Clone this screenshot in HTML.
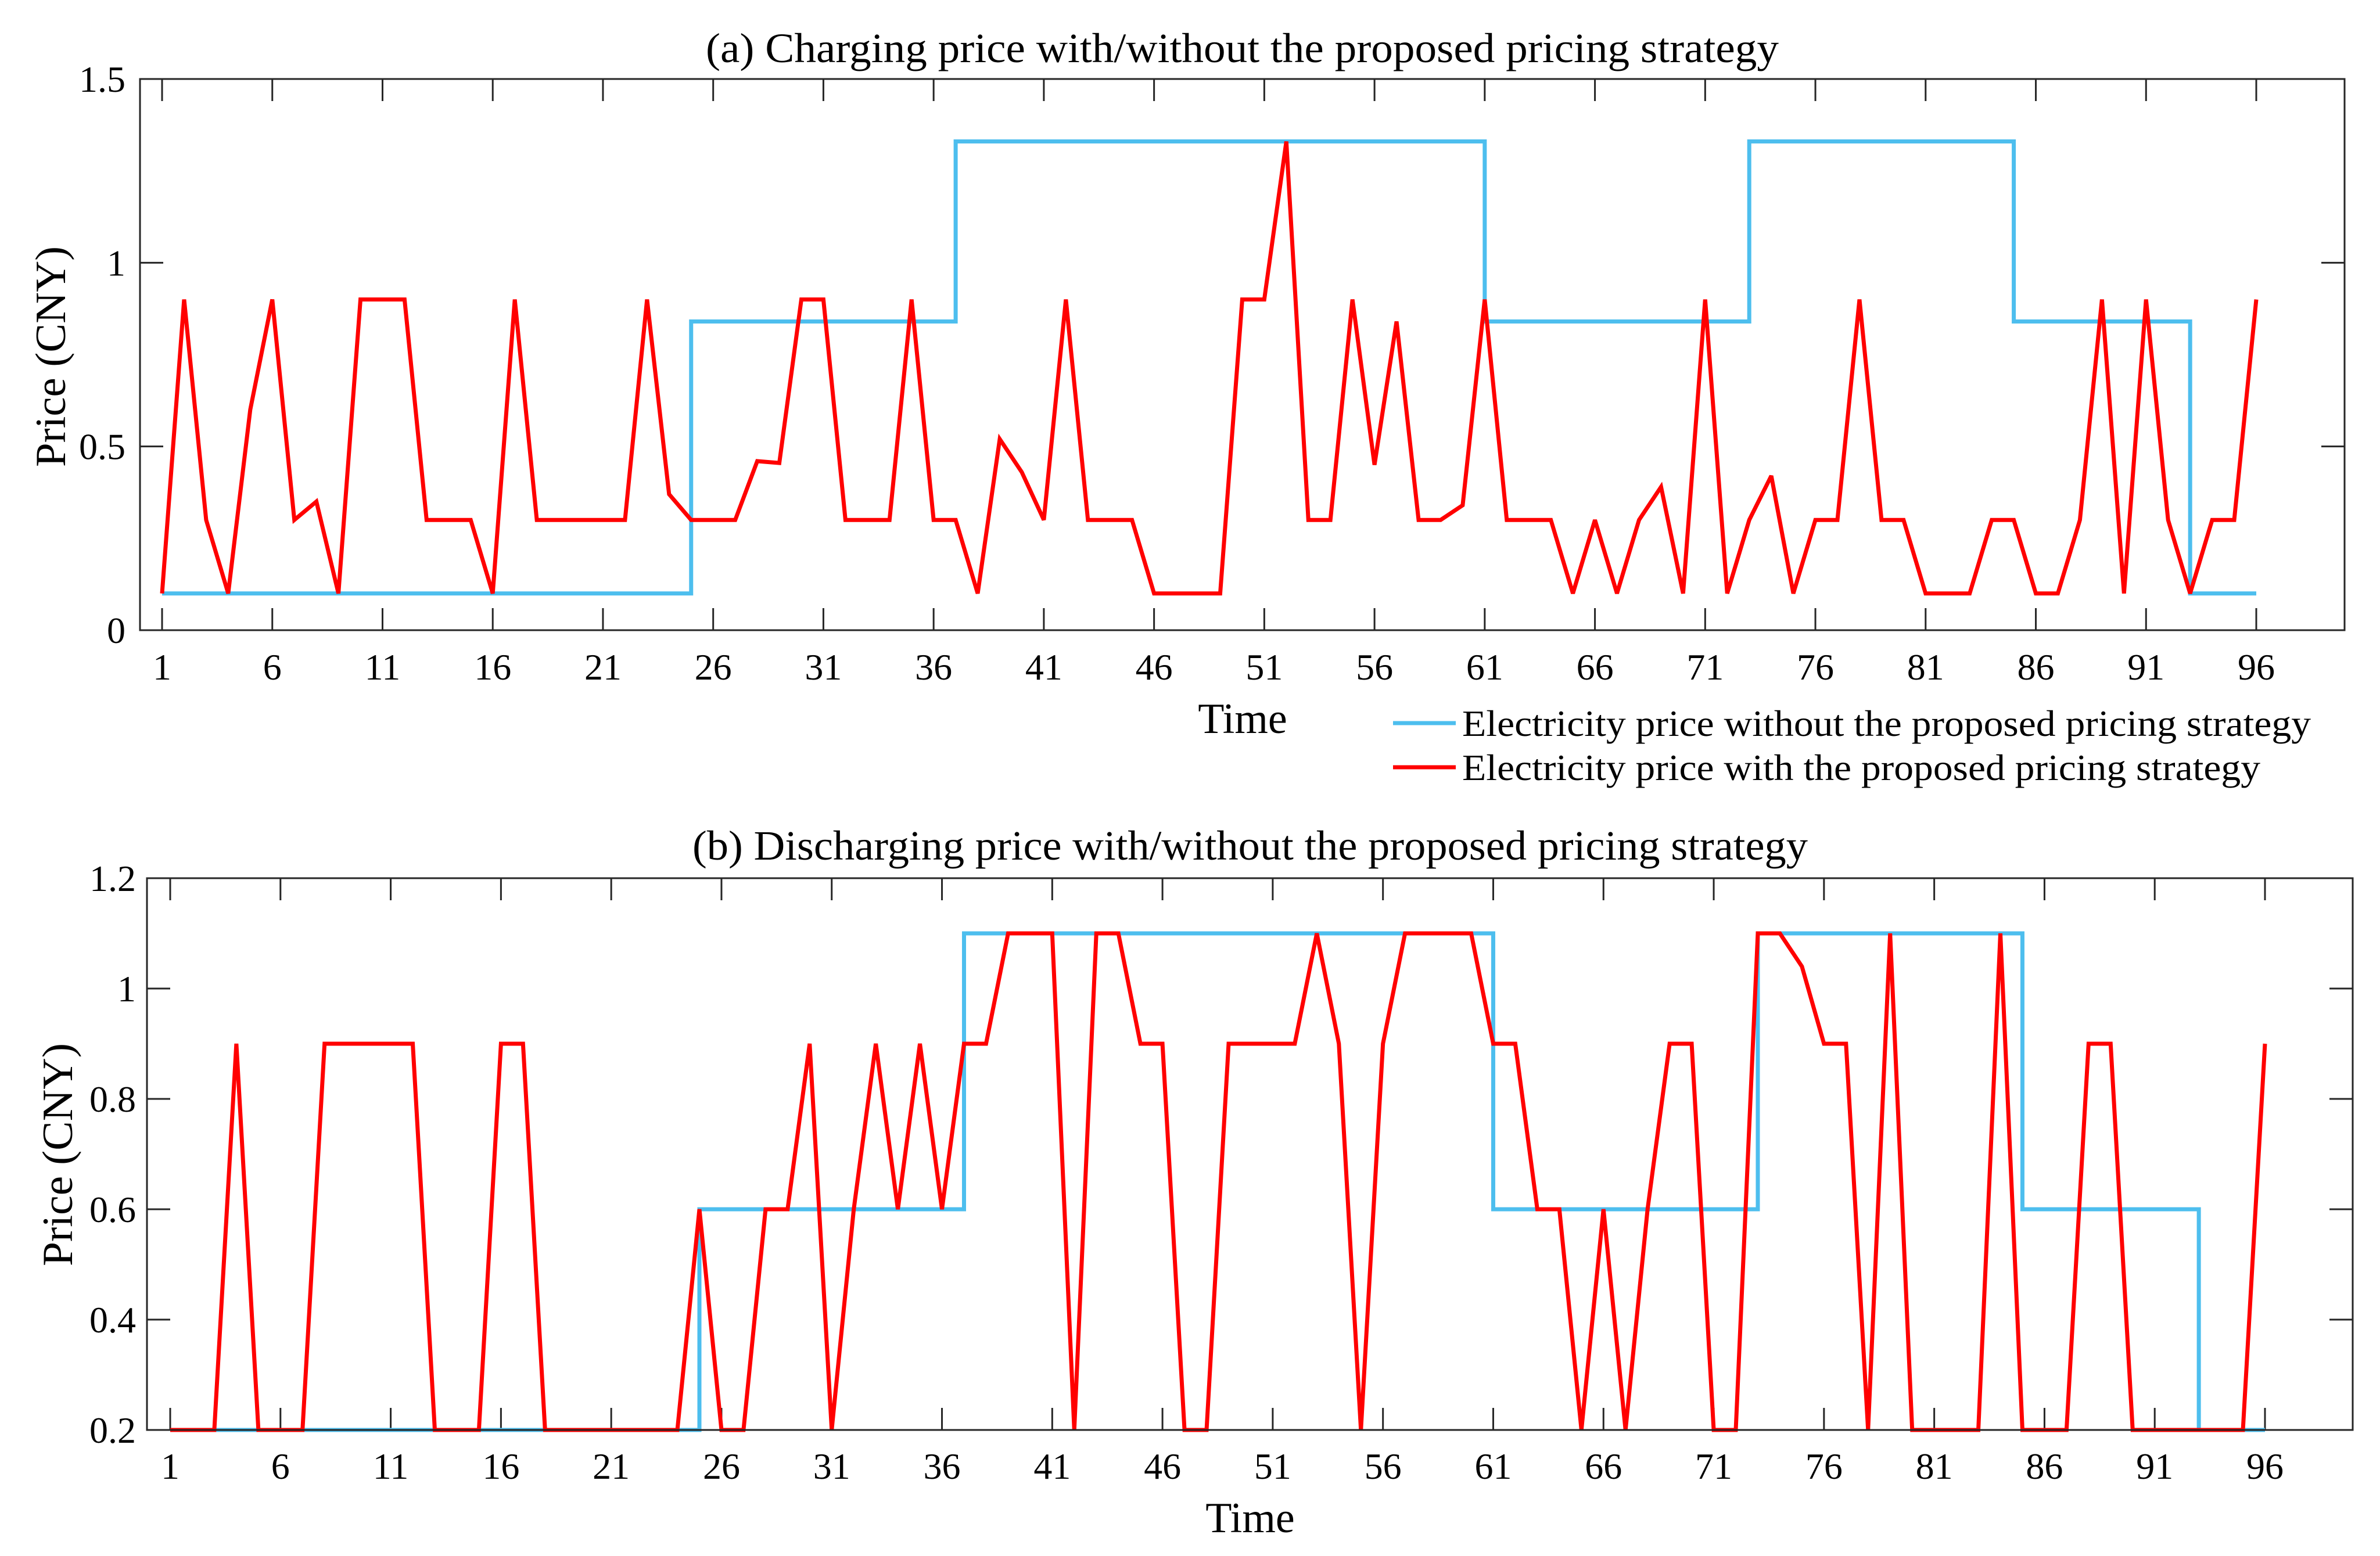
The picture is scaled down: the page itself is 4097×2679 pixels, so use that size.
<!DOCTYPE html>
<html><head><meta charset="utf-8"><style>
html,body{margin:0;padding:0;background:#fff;}
svg{display:block;font-family:"Liberation Serif","Times New Roman",serif;}
</style></head><body>
<svg id="fig" width="4097" height="2679" viewBox="0 0 4097 2679" xmlns="http://www.w3.org/2000/svg"></svg>
<script>
// ---- data ----
const timeTicks = [1,6,11,16,21,26,31,36,41,46,51,56,61,66,71,76,81,86,91,96];
const chargeYTicks = [0,0.5,1,1.5];
const chargeYLabels = ["0","0.5","1","1.5"];
const dischargeYTicks = [0.2,0.4,0.6,0.8,1,1.2];
const dischargeYLabels = ["0.2","0.4","0.6","0.8","1","1.2"];
const chargeWithout = [0.1,0.1,0.1,0.1,0.1,0.1,0.1,0.1,0.1,0.1,0.1,0.1,0.1,0.1,0.1,0.1,0.1,0.1,0.1,0.1,0.1,0.1,0.1,0.1,
 0.84,0.84,0.84,0.84,0.84,0.84,0.84,0.84,0.84,0.84,0.84,0.84,
 1.33,1.33,1.33,1.33,1.33,1.33,1.33,1.33,1.33,1.33,1.33,1.33,1.33,1.33,1.33,1.33,1.33,1.33,1.33,1.33,1.33,1.33,1.33,1.33,
 0.84,0.84,0.84,0.84,0.84,0.84,0.84,0.84,0.84,0.84,0.84,0.84,
 1.33,1.33,1.33,1.33,1.33,1.33,1.33,1.33,1.33,1.33,1.33,1.33,
 0.84,0.84,0.84,0.84,0.84,0.84,0.84,0.84,
 0.1,0.1,0.1,0.1];
const chargeWith = [0.1,0.9,0.3,0.1,0.6,0.9,0.3,0.35,0.1,0.9,0.9,0.9,0.3,0.3,0.3,0.1,0.9,0.3,0.3,0.3,0.3,0.3,0.9,0.37,
 0.3,0.3,0.3,0.46,0.455,0.9,0.9,0.3,0.3,0.3,0.9,0.3,0.3,0.1,0.52,0.43,0.3,0.9,0.3,0.3,0.3,0.1,0.1,0.1,
 0.1,0.9,0.9,1.33,0.3,0.3,0.9,0.45,0.84,0.3,0.3,0.34,0.9,0.3,0.3,0.3,0.1,0.3,0.1,0.3,0.39,0.1,0.9,0.1,
 0.3,0.42,0.1,0.3,0.3,0.9,0.3,0.3,0.1,0.1,0.1,0.3,0.3,0.1,0.1,0.3,0.9,0.1,0.9,0.3,0.1,0.3,0.3,0.9];
const dischargeWithout = [0.2,0.2,0.2,0.2,0.2,0.2,0.2,0.2,0.2,0.2,0.2,0.2,0.2,0.2,0.2,0.2,0.2,0.2,0.2,0.2,0.2,0.2,0.2,0.2,
 0.6,0.6,0.6,0.6,0.6,0.6,0.6,0.6,0.6,0.6,0.6,0.6,
 1.1,1.1,1.1,1.1,1.1,1.1,1.1,1.1,1.1,1.1,1.1,1.1,1.1,1.1,1.1,1.1,1.1,1.1,1.1,1.1,1.1,1.1,1.1,1.1,
 0.6,0.6,0.6,0.6,0.6,0.6,0.6,0.6,0.6,0.6,0.6,0.6,
 1.1,1.1,1.1,1.1,1.1,1.1,1.1,1.1,1.1,1.1,1.1,1.1,
 0.6,0.6,0.6,0.6,0.6,0.6,0.6,0.6,
 0.2,0.2,0.2,0.2];
const dischargeWith = [0.2,0.2,0.2,0.9,0.2,0.2,0.2,0.9,0.9,0.9,0.9,0.9,0.2,0.2,0.2,0.9,0.9,0.2,0.2,0.2,0.2,0.2,0.2,0.2,
 0.6,0.2,0.2,0.6,0.6,0.9,0.2,0.6,0.9,0.6,0.9,0.6,0.9,0.9,1.1,1.1,1.1,0.2,1.1,1.1,0.9,0.9,0.2,0.2,
 0.9,0.9,0.9,0.9,1.1,0.9,0.2,0.9,1.1,1.1,1.1,1.1,0.9,0.9,0.6,0.6,0.2,0.6,0.2,0.6,0.9,0.9,0.2,0.2,
 1.1,1.1,1.04,0.9,0.9,0.2,1.1,0.2,0.2,0.2,0.2,1.1,0.2,0.2,0.2,0.9,0.9,0.2,0.2,0.2,0.2,0.2,0.2,0.9];

const NS="http://www.w3.org/2000/svg";
const svg=document.getElementById('fig');
function mk(tag,attrs,parent){const e=document.createElementNS(NS,tag);for(const k in attrs)e.setAttribute(k,attrs[k]);(parent||svg).appendChild(e);return e;}
const BLUE="#4DBEEE", RED="#FF0000", AX="#262626";

function drawPanel(p){
  const g=mk('g',{});
  
  
  const xs=i=>p.x1+(i-1)*(p.x96-p.x1)/95;
  const ys=v=>p.bottom-(v-p.ymin)/(p.ymax-p.ymin)*(p.bottom-p.top);
  timeTicks.forEach(t=>{
    const x=xs(t);
    const a=mk('line',{x1:x,x2:x,y1:p.bottom,y2:p.bottom-38,stroke:AX,'stroke-width':3},g);
    
    
    mk('line',{x1:x,x2:x,y1:p.top,y2:p.top+38,stroke:AX,'stroke-width':3},g);
    const tx=mk('text',{x:x,y:p.xlabY,'font-size':64,'text-anchor':'middle',fill:'#000'},g);
    tx.textContent=t;
    
    
  });
  p.yt.forEach((v,k)=>{
    const y=ys(v);
    mk('line',{x1:p.left,x2:p.left+40,y1:y,y2:y,stroke:AX,'stroke-width':3},g);
    mk('line',{x1:p.right,x2:p.right-40,y1:y,y2:y,stroke:AX,'stroke-width':3},g);
    const tx=mk('text',{x:p.ylabX,y:y+22,'font-size':64,'text-anchor':'end',fill:'#000'},g);
    tx.textContent=p.yl[k];
    
    
  });
  let d='M'+xs(1)+','+ys(p.blue[0]);
  for(let i=2;i<=p.blue.length;i++){d+=' H'+xs(i)+' V'+ys(p.blue[i-1]);}
  const b=mk('path',{d:d,fill:'none',stroke:BLUE,'stroke-width':7},g);
  
  
  let d2='';
  p.red.forEach((v,i)=>{d2+=(i?' L':'M')+xs(i+1)+','+ys(v);});
  const r=mk('path',{d:d2,fill:'none',stroke:RED,'stroke-width':7,'stroke-linejoin':'miter','stroke-miterlimit':3},g);
  
  
  const box=mk('rect',{x:p.left,y:p.top,width:p.right-p.left,height:p.bottom-p.top,fill:'none',stroke:AX,'stroke-width':3},g);
  
  
  const ti=mk('text',{x:p.titleX,y:p.titleY,'font-size':72,fill:'#000',textLength:p.titleW,lengthAdjust:'spacingAndGlyphs'},g);
  ti.textContent=p.title;
  
  
  const xt=mk('text',{x:p.timeX,y:p.timeY,'font-size':74,'text-anchor':'middle',fill:'#000'},g);
  xt.textContent='Time';
  
  
  const yt=mk('text',{x:0,y:0,'font-size':74,'text-anchor':'middle',fill:'#000',textLength:p.ylW,lengthAdjust:'spacingAndGlyphs',transform:'translate('+(p.yTitleX)+','+p.yTitleY+') rotate(-90)'},g);
  yt.textContent='Price (CNY)';
  
  
}

drawPanel({name:'charging-chart',left:241,right:4036,top:136,bottom:1085,x1:279,x96:3884,ymin:0,ymax:1.5,
  yt:chargeYTicks,yl:chargeYLabels,blue:chargeWithout,red:chargeWith,xlabY:1170,ylabX:216,
  title:'(a)  Charging price with/without the proposed pricing strategy',titleX:1215,titleY:107,titleW:1847,
  timeX:2139,timeY:1262,yTitleX:112,yTitleY:614,ylW:380});
drawPanel({name:'discharging-chart',left:253,right:4050,top:1512,bottom:2462,x1:293,x96:3899,ymin:0.2,ymax:1.2,
  yt:dischargeYTicks,yl:dischargeYLabels,blue:dischargeWithout,red:dischargeWith,xlabY:2546,ylabX:234,
  title:'(b) Discharging price with/without the proposed pricing strategy',titleX:1192,titleY:1480,titleW:1920,
  timeX:2152,timeY:2638,yTitleX:124,yTitleY:1988,ylW:384});

const lg=mk('g',{});


const l1=mk('line',{x1:2398,x2:2506,y1:1245,y2:1245,stroke:BLUE,'stroke-width':7},lg);


const t1=mk('text',{x:2517,y:1267,'font-size':64,fill:'#000',textLength:1461,lengthAdjust:'spacingAndGlyphs'},lg);
t1.textContent='Electricity price without the proposed pricing strategy';


const l2=mk('line',{x1:2398,x2:2506,y1:1321,y2:1321,stroke:RED,'stroke-width':7},lg);


const t2=mk('text',{x:2517,y:1343,'font-size':64,fill:'#000',textLength:1374,lengthAdjust:'spacingAndGlyphs'},lg);
t2.textContent='Electricity price with the proposed pricing strategy';


</script>
</body></html>
